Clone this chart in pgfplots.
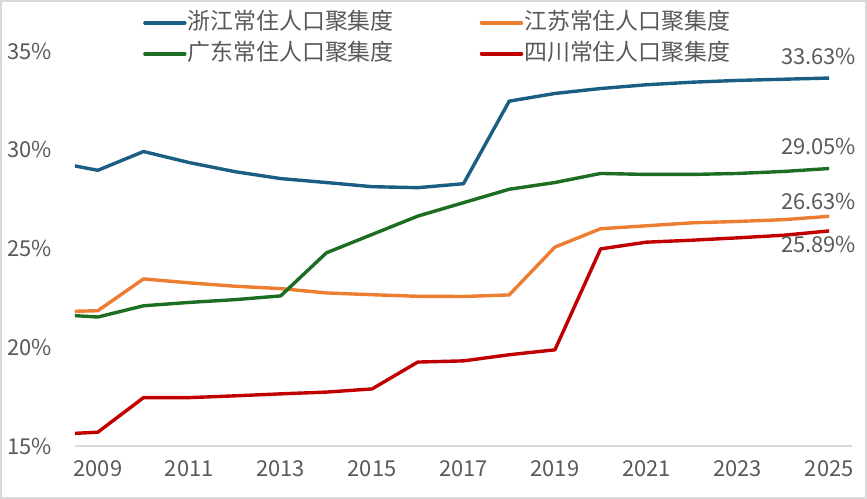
\documentclass[border=0pt]{standalone}
\usepackage{pgfplots}
\pgfplotsset{compat=1.18}
\usepackage{fontspec}
\setmainfont{Noto Sans CJK SC}
\definecolor{zj}{HTML}{1B5E83}
\definecolor{js}{HTML}{ED7D31}
\definecolor{gd}{HTML}{1C6E22}
\definecolor{sc}{HTML}{C00000}
\definecolor{txt}{HTML}{595959}
\definecolor{bord}{HTML}{D9D9D9}
\begin{document}
\begin{tikzpicture}
\useasboundingbox (-75bp,-53bp) rectangle (792bp,446bp);
\draw[bord, line width=2bp] (-74bp,-52bp) rectangle (791bp,445bp);
\begin{axis}[
  at={(0,0)}, anchor=south west,
  scale only axis, width=777bp, height=395bp,
  xmin=2008.5, xmax=2025.5, ymin=15, ymax=35,
  clip mode=individual,
  separate axis lines,
  axis x line*=bottom, axis y line*=left,
  x axis line style={draw=bord, line width=1.5bp, -},
  y axis line style={draw=none},
  major tick length=0pt,
  xtick={2009,2011,...,2025},
  ytick={15,20,25,30,35},
  yticklabel={\pgfmathprintnumber{\tick}\%},
  /pgf/number format/assume math mode=true,
  /pgf/number format/1000 sep={},
  tick label style={font=\fontsize{22}{26}\selectfont, text=txt},
  yticklabel style={anchor=east, inner sep=0pt, xshift=-23bp},
  xticklabel style={anchor=north, inner sep=0pt, yshift=-14bp},
  legend columns=2,
  legend cell align=left,
  legend style={draw=none, fill=none, at={(0.0875,1.101)}, anchor=north west,
    inner xsep=0pt, inner ysep=0pt, row sep=8bp,
    font=\fontsize{23}{27}\selectfont, text=txt,
    nodes={inner sep=1bp, text height=17bp, text depth=4bp},
    /tikz/every even column/.append style={column sep=85bp}},
  legend image code/.code={\draw[#1, line cap=round] (0bp,0bp) -- (40bp,0bp);},
  every axis plot/.append style={line width=3.4bp, line join=round},
]
\addplot[zj] coordinates {(2008,29.40)(2009,28.96)(2010,29.91)(2011,29.35)(2012,28.89)(2013,28.54)(2014,28.34)(2015,28.13)(2016,28.08)(2017,28.28)(2018,32.46)(2019,32.85)(2020,33.10)(2021,33.29)(2022,33.42)(2023,33.51)(2024,33.57)(2025,33.63)};
\addlegendentry{浙江常住人口聚集度}
\addplot[js] coordinates {(2008,21.79)(2009,21.85)(2010,23.46)(2011,23.26)(2012,23.09)(2013,22.97)(2014,22.75)(2015,22.66)(2016,22.58)(2017,22.57)(2018,22.65)(2019,25.07)(2020,26.00)(2021,26.15)(2022,26.30)(2023,26.37)(2024,26.46)(2025,26.63)};
\addlegendentry{江苏常住人口聚集度}
\addplot[gd] coordinates {(2008,21.67)(2009,21.53)(2010,22.10)(2011,22.27)(2012,22.41)(2013,22.60)(2014,24.78)(2015,25.71)(2016,26.64)(2017,27.32)(2018,28.00)(2019,28.34)(2020,28.80)(2021,28.75)(2022,28.75)(2023,28.80)(2024,28.90)(2025,29.05)};
\addlegendentry{广东常住人口聚集度}
\addplot[sc] coordinates {(2008,15.58)(2009,15.70)(2010,17.45)(2011,17.45)(2012,17.54)(2013,17.64)(2014,17.73)(2015,17.89)(2016,19.25)(2017,19.31)(2018,19.62)(2019,19.87)(2020,24.98)(2021,25.32)(2022,25.42)(2023,25.54)(2024,25.67)(2025,25.89)};
\addlegendentry{四川常住人口聚集度}
\begin{scope}[every node/.style={font=\fontsize{22}{26}\selectfont, text=txt, anchor=east, inner sep=0pt}]
\node[xshift=27bp, yshift=22bp] at (axis cs:2025,33.63) {33.63\%};
\node[xshift=27bp, yshift=22bp] at (axis cs:2025,29.05) {29.05\%};
\node[xshift=27bp, yshift=15bp] at (axis cs:2025,26.63) {26.63\%};
\node[xshift=27bp, yshift=-14bp] at (axis cs:2025,25.89) {25.89\%};
\end{scope}
\end{axis}
\end{tikzpicture}
\end{document}
